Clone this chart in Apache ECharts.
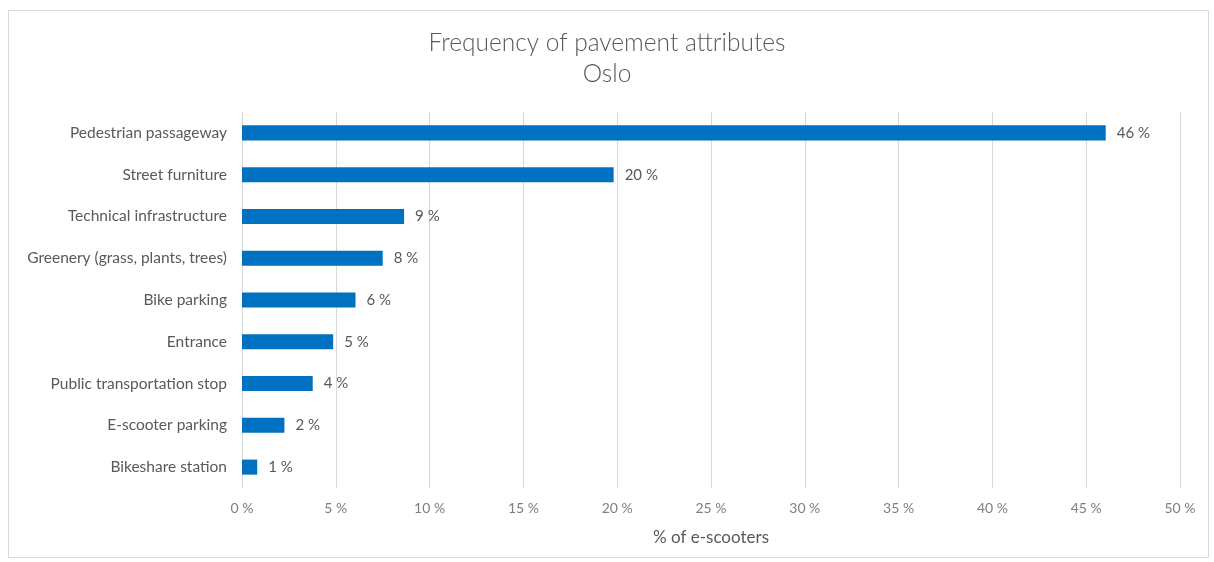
<!DOCTYPE html>
<html>
<head>
<meta charset="utf-8">
<script src="https://cdn.jsdelivr.net/npm/echarts@6/dist/echarts.min.js"></script>
<style>
  html, body { margin: 0; padding: 0; background: #ffffff; }
  #frame { position: absolute; left: 8px; top: 10px; width: 1201px; height: 548px; border: 1px solid #d9d9d9; box-sizing: border-box; }
  #chart { position: absolute; left: 0; top: 0; width: 1214px; height: 562px; }
</style>
</head>
<body>
<div id="frame"></div>
<div id="chart"></div>
<script>
// Share of e-scooters parked at each pavement attribute (Oslo)
const categories = [
  'Pedestrian passageway',
  'Street furniture',
  'Technical infrastructure',
  'Greenery (grass, plants, trees)',
  'Bike parking',
  'Entrance',
  'Public transportation stop',
  'E-scooter parking',
  'Bikeshare station'
];
const shares = [46.04, 19.81, 8.64, 7.50, 6.05, 4.86, 3.77, 2.26, 0.81];
const xTicks = [0, 5, 10, 15, 20, 25, 30, 35, 40, 45, 50];

const textColor = '#595959';
const fontFamily = 'Lato, "Open Sans", sans-serif';

const chart = echarts.init(document.getElementById('chart'), null, { renderer: 'canvas' });
chart.setOption({
  animation: false,
  backgroundColor: 'transparent',
  title: {
    text: 'Frequency of pavement attributes\nOslo',
    left: 'center',
    top: 23,
    textStyle: {
      color: textColor,
      fontFamily: fontFamily,
      fontWeight: 300,
      fontSize: 24.5,
      lineHeight: 31
    }
  },
  grid: { left: 242, right: 34, top: 112, bottom: 74, containLabel: false },
  xAxis: {
    type: 'value',
    min: xTicks[0],
    max: xTicks[xTicks.length - 1],
    interval: 5,
    name: '% of e-scooters',
    nameLocation: 'middle',
    nameGap: 41,
    nameTextStyle: { color: textColor, fontFamily: fontFamily, fontSize: 17 },
    axisLine: { show: false },
    axisTick: { show: false },
    axisLabel: {
      formatter: v => v + ' %',
      color: '#7f7f7f',
      fontFamily: fontFamily,
      fontSize: 14,
      margin: 13
    },
    splitLine: { show: true, lineStyle: { color: '#d9d9d9', width: 1 } }
  },
  yAxis: {
    type: 'category',
    data: categories,
    inverse: true,
    axisLine: { show: false },
    axisTick: { show: false },
    axisLabel: {
      color: textColor,
      fontFamily: fontFamily,
      fontSize: 15.5,
      margin: 15
    }
  },
  series: [{
    type: 'bar',
    data: shares,
    barCategoryGap: '64%',
    itemStyle: { color: '#0070c0' },
    label: {
      show: true,
      position: 'right',
      distance: 11,
      formatter: p => Math.round(p.value) + ' %',
      color: textColor,
      fontFamily: fontFamily,
      fontSize: 15
    }
  }]
});
</script>
</body>
</html>
